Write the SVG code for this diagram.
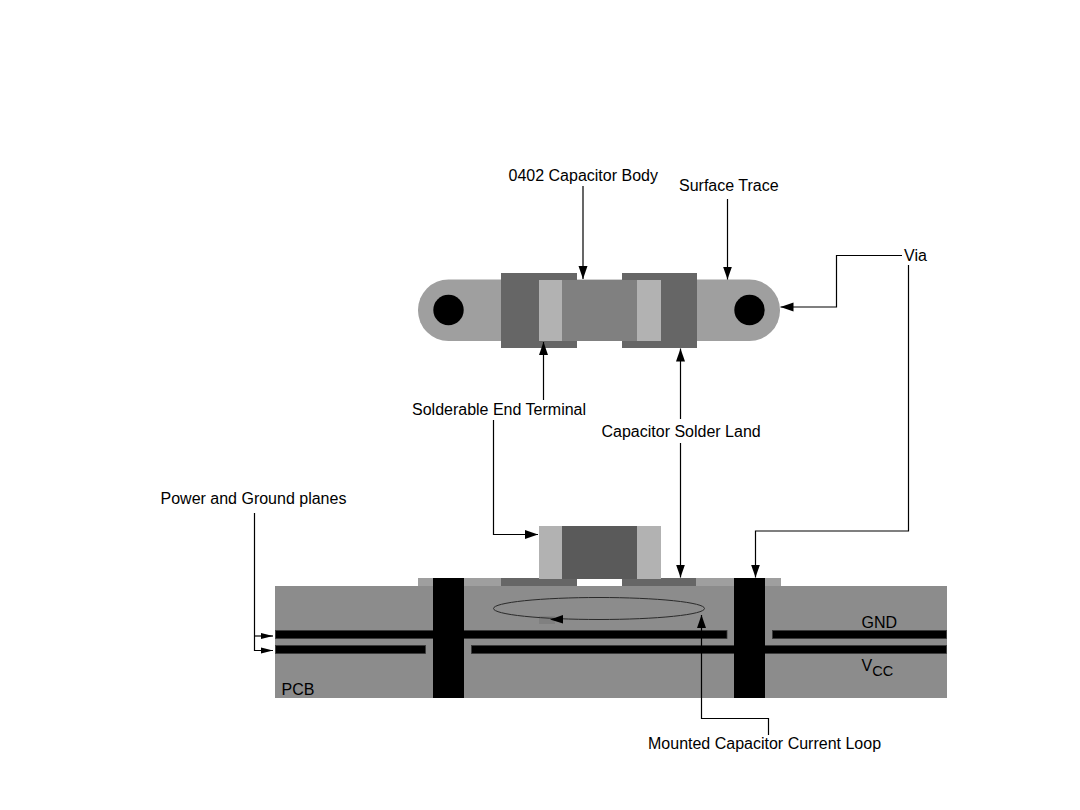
<svg xmlns="http://www.w3.org/2000/svg" width="1080" height="810" viewBox="0 0 1080 810">
  <style>
    text { font-family: "Liberation Sans", Arial, sans-serif; font-size: 16px; fill: #000; }
    .wire { fill: none; stroke: #000; stroke-width: 1.2; }
    .trace { fill: #9f9f9f; }
    .land { fill: #666666; }
    .terminal { fill: #b2b2b2; }
    .metal { fill: #000; stroke: #3a3a3a; stroke-width: 0.8; }
    .via { fill: #000; }
  </style>
  <defs>
    <marker id="head" markerUnits="userSpaceOnUse" markerWidth="14" markerHeight="12" refX="13" refY="6" orient="auto">
      <path d="M0,1.500 L13,6 L0,10.500 Z" fill="#000"/>
    </marker>
    <marker id="small" markerUnits="userSpaceOnUse" markerWidth="14" markerHeight="10" refX="12" refY="5" orient="auto">
      <path d="M0,2 L12,5 L0,8 Z" fill="#000"/>
    </marker>
  </defs>
  <rect width="1080" height="810" fill="#fff"/>

  <g id="top-view">
    <rect class="trace" x="418" y="279.5" width="362" height="61.5" rx="30.5"/>
    <rect class="land" x="501" y="273" width="76" height="75"/>
    <rect class="land" x="622" y="273" width="75" height="75"/>
    <rect x="562" y="280" width="75" height="61" fill="#808080"/>
    <rect class="terminal" x="539" y="280" width="23" height="61"/>
    <rect class="terminal" x="637" y="280" width="24" height="61"/>
    <circle class="via" cx="448.5" cy="310" r="15.2"/>
    <circle class="via" cx="749.5" cy="310" r="15.2"/>
  </g>

  <g id="side-view">
    <rect x="275" y="586" width="672" height="112" fill="#8c8c8c"/>
    <rect class="trace" x="418" y="578" width="363" height="8"/>
    <rect x="577" y="578" width="45" height="8" fill="#fff"/>
    <rect class="land" x="501" y="578" width="76" height="8"/>
    <rect class="land" x="622" y="578" width="74" height="8"/>
    <rect class="terminal" x="539" y="526" width="23" height="53"/>
    <rect x="562" y="526" width="75" height="53" fill="#5a5a5a"/>
    <rect class="terminal" x="637" y="526" width="24" height="53"/>
    <rect class="metal" x="275.5" y="630.5" width="451.5" height="8"/>
    <rect class="metal" x="772.5" y="630.5" width="174" height="8"/>
    <rect class="metal" x="275.5" y="645.5" width="150" height="8"/>
    <rect class="metal" x="471.5" y="645.5" width="475" height="8"/>
    <rect class="via" x="433" y="578" width="31" height="120"/>
    <rect class="via" x="734" y="578" width="31" height="120"/>
    <rect x="539" y="616" width="16" height="8" fill="#808080"/>
    <ellipse cx="599" cy="608.5" rx="105.5" ry="11" fill="none" stroke="#2a2a2a" stroke-width="1"/>
  </g>

  <g id="connectors">
    <path class="wire" d="M583,186 V279" marker-end="url(#head)"/>
    <path class="wire" d="M727.500,199 V279.500" marker-end="url(#head)"/>
    <path class="wire" d="M902,255.500 H836.500 V307 H780.500" marker-end="url(#head)"/>
    <path class="wire" d="M908.500,265 V531 H755.500 V577.500" marker-end="url(#head)"/>
    <path class="wire" d="M543.500,400 V342" marker-end="url(#head)"/>
    <path class="wire" d="M680.500,419 V348.500" marker-end="url(#head)"/>
    <path class="wire" d="M680.500,443 V577.500" marker-end="url(#head)"/>
    <path class="wire" d="M493.500,420 V534.500 H538" marker-end="url(#head)"/>
    <path class="wire" d="M254.500,513 V650.500 H273" marker-end="url(#small)"/>
    <path class="wire" d="M254.500,636 H273" marker-end="url(#small)"/>
    <path class="wire" d="M768.500,735 V718.500 H701.500 V615" marker-end="url(#head)"/>
    <path d="M563,615 L550,619.500 L563,623.500 Z" fill="#000"/>
  </g>

  <g id="labels">
    <text x="508.500" y="180.500">0402 Capacitor Body</text>
    <text x="679" y="190.500" font-size="15.700">Surface Trace</text>
    <text x="904" y="260.500">Via</text>
    <text x="412" y="414.500">Solderable End Terminal</text>
    <text x="601.500" y="436.500">Capacitor Solder Land</text>
    <text x="160.500" y="503.500">Power and Ground planes</text>
    <text x="648" y="748.500">Mounted Capacitor Current Loop</text>
    <text x="281.500" y="695">PCB</text>
    <text x="861.500" y="628">GND</text>
    <text x="861.500" y="671">V<tspan font-size="14.500" dy="5">CC</tspan></text>
  </g>
</svg>
